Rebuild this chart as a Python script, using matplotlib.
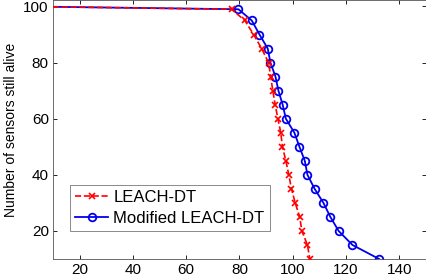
import matplotlib
matplotlib.use("Agg")
import matplotlib.pyplot as plt

plt.rcParams['font.family'] = ['Liberation Sans', 'DejaVu Sans']

leach_x = [0, 77, 82, 85.3, 88.3, 90.9, 91.7, 92.5, 93.4, 94.4, 95.5, 96.1, 97.4, 98.5, 99.5, 100.9, 102.6, 103.4, 105.5, 106.4]
leach_y = [100, 99, 95, 90, 85, 80, 75, 70, 65, 60, 55, 50, 45, 40, 35, 30, 25, 20, 15, 10]

mod_x = [0, 79.6, 84.6, 87.5, 90.6, 91.6, 93.5, 94.6, 96.2, 97.4, 100.6, 102.5, 104.5, 105.5, 108.2, 111.5, 114.1, 117.2, 122.4, 132.4]
mod_y = [100, 99, 95, 90, 85, 80, 75, 70, 65, 60, 55, 50, 45, 40, 35, 30, 25, 20, 15, 10]

xticks = [20, 40, 60, 80, 100, 120, 140]
yticks = [20, 40, 60, 80, 100]

fig = plt.figure(figsize=(4.27, 2.76), dpi=100)
ax = fig.add_axes([53/427, 1-259/276, 373/427, 259/276])

ax.plot(leach_x, leach_y, color='#ff0000', linestyle='--', marker='x', markersize=5,
        markeredgewidth=1.2, linewidth=1.2, label='LEACH-DT', zorder=3)
ax.plot(mod_x, mod_y, color='#0000ee', linestyle='-', marker='o', markersize=5.5,
        markerfacecolor='none', markeredgewidth=1.3, linewidth=1.3, label='Modified LEACH-DT', zorder=2)

ax.set_xlim(10, 150)
ax.set_ylim(10, 102.3)
ax.set_xticks(xticks)
ax.set_yticks(yticks)
ax.tick_params(direction='in', top=True, right=True, labelsize=11, length=3, width=0.6, pad=3)
for s in ax.spines.values():
    s.set_linewidth(0.6)
    s.set_color('#555555')
ax.set_ylabel('Number of sensors still alive', fontsize=10, labelpad=4)

leg = ax.legend(loc='lower left', bbox_to_anchor=(0.046, 0.11), fontsize=12, handlelength=2.0,
                frameon=True, fancybox=False, edgecolor='#555555', borderpad=0.3,
                labelspacing=0.35, handletextpad=0.3, borderaxespad=0)
leg.get_frame().set_linewidth(0.6)

fig.savefig('out.png', dpi=100)
